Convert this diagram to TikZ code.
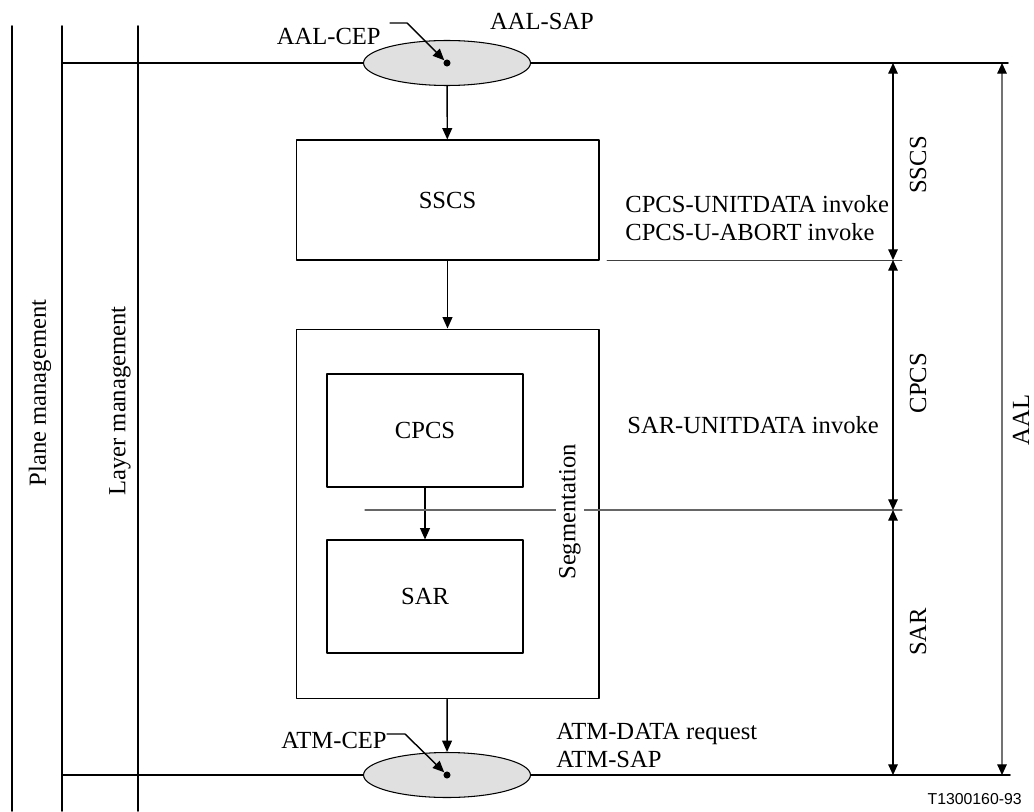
\documentclass[tikz,border=0pt]{standalone}
\usepackage{fontspec}
\setmainfont{Liberation Serif}
\newfontfamily\tagfont{Liberation Sans}
\usetikzlibrary{arrows.meta,shapes.geometric}

\tikzset{
  blk/.style={draw, line width=0.6pt, inner sep=0pt},
  sap/.style={draw, ellipse, fill=black!12, line width=0.6pt, minimum width=3.34cm, minimum height=0.9cm, inner sep=0pt},
  spot/.style={circle, fill, inner sep=0pt, minimum size=4pt},
  tip/.style={-{Triangle[length=6.5pt,width=5.6pt]}, line width=0.8pt},
  dimline/.style={{Triangle[length=6pt,width=5.4pt,color=black]}-{Triangle[length=6pt,width=5.4pt,color=black]}, line width=0.6pt},
}

\begin{document}
\begin{tikzpicture}[x=0.02cm, y=-0.02cm, font=\fontsize{14}{15.9}\selectfont, line cap=round, line join=round]
\useasboundingbox (0,0) rectangle (1034,811);

% management columns
\draw[line width=0.9pt] (12,26) -- (12,811);
\draw[line width=0.9pt] (62,26) -- (62,811);
\draw[line width=0.9pt] (138,26) -- (138,811);
\node[rotate=90] (plane) at (40,393) {Plane management};
\node[rotate=90] (layer) at (120,401) {Layer management};

% service access points
\draw[line width=0.9pt] (62,63) -- (1008,63);
\draw[line width=0.9pt] (62,775) -- (1010,775);
\node[sap] (aalsap) at (447,63) {};
\node[sap] (atmsap) at (447,775) {};
\node[spot] (aaldot) at (447,63) {};
\node[spot] (atmdot) at (447,775) {};
\node[anchor=base] (aalsaplbl) at (542,30) {AAL-SAP};
\node[anchor=base east, inner sep=0pt] (aalcep) at (381,45) {AAL-CEP};
\node[anchor=base east, inner sep=0pt] (atmcep) at (387,748) {ATM-CEP};
\coordinate (aalbend) at (407,23);
\coordinate (atmbend) at (405,734);
\draw[tip] (390,23) -- (aalbend) -- (aaldot);
\draw[tip] (atmcep.east |- atmbend) -- (atmbend) -- (atmdot);

% blocks
\node[blk, minimum width=6.06cm, minimum height=2.4cm] (sscs) at (447.5,200) {SSCS};
\node[blk, minimum width=6.06cm, minimum height=7.4cm] (sarbox) at (447.5,514) {};
\node[blk, minimum width=3.92cm, minimum height=2.26cm] (cpcs) at (425,430.5) {CPCS};
\node[blk, minimum width=3.92cm, minimum height=2.26cm] (sar) at (425,596.5) {SAR};

\draw[tip] (aalsap) -- (sscs);
\draw[tip] (sscs) -- (sarbox);
\draw[tip] (cpcs) -- (sar);
\draw[tip] (sarbox) -- (atmsap);

% boundaries
\draw[line width=0.5pt, black!75] (607,260) -- (902,260);
\draw[line width=0.6pt, black!60] (365,510) -- (902,510);
\node[rotate=90, fill=white, inner sep=2pt] (seg) at (570,512) {Segmentation};

% primitives
\node[anchor=base west, inner sep=0pt] (cpcsinv) at (625,212) {CPCS-UNITDATA invoke};
\node[anchor=base west, inner sep=0pt] (abortinv) at (625,240) {CPCS-U-ABORT invoke};
\node[anchor=base west, inner sep=0pt] (sarinv) at (627,433) {SAR-UNITDATA invoke};
\node[anchor=base west, inner sep=0pt] (atmreq) at (556,739) {ATM-DATA request};
\node[anchor=base west, inner sep=0pt] (atmsaplbl) at (556,767) {ATM-SAP};

% sublayer extents
\coordinate (s0) at (893,63);
\coordinate (s1) at (893,260);
\coordinate (s2) at (893,510);
\coordinate (s3) at (893,775);
\coordinate (a0) at (1002,63);
\coordinate (a1) at (1002,775);
\draw[dimline] (s0) -- (s1);
\draw[dimline] (s1) -- (s2);
\draw[dimline] (s2) -- (s3);
\draw[dimline, black!55] (a0) -- (a1);
\node[rotate=90] (sscslbl) at (918,165) {SSCS};
\node[rotate=90] (cpcslbl) at (918,383) {CPCS};
\node[rotate=90] (sarlbl) at (918,632) {SAR};
\node[rotate=90] (aallbl) at (1021,420) {AAL};

\node[anchor=base east, inner sep=0pt, font=\tagfont\fontsize{9}{11}\selectfont] (tag) at (1022,804) {T1300160-93};
\end{tikzpicture}
\end{document}
